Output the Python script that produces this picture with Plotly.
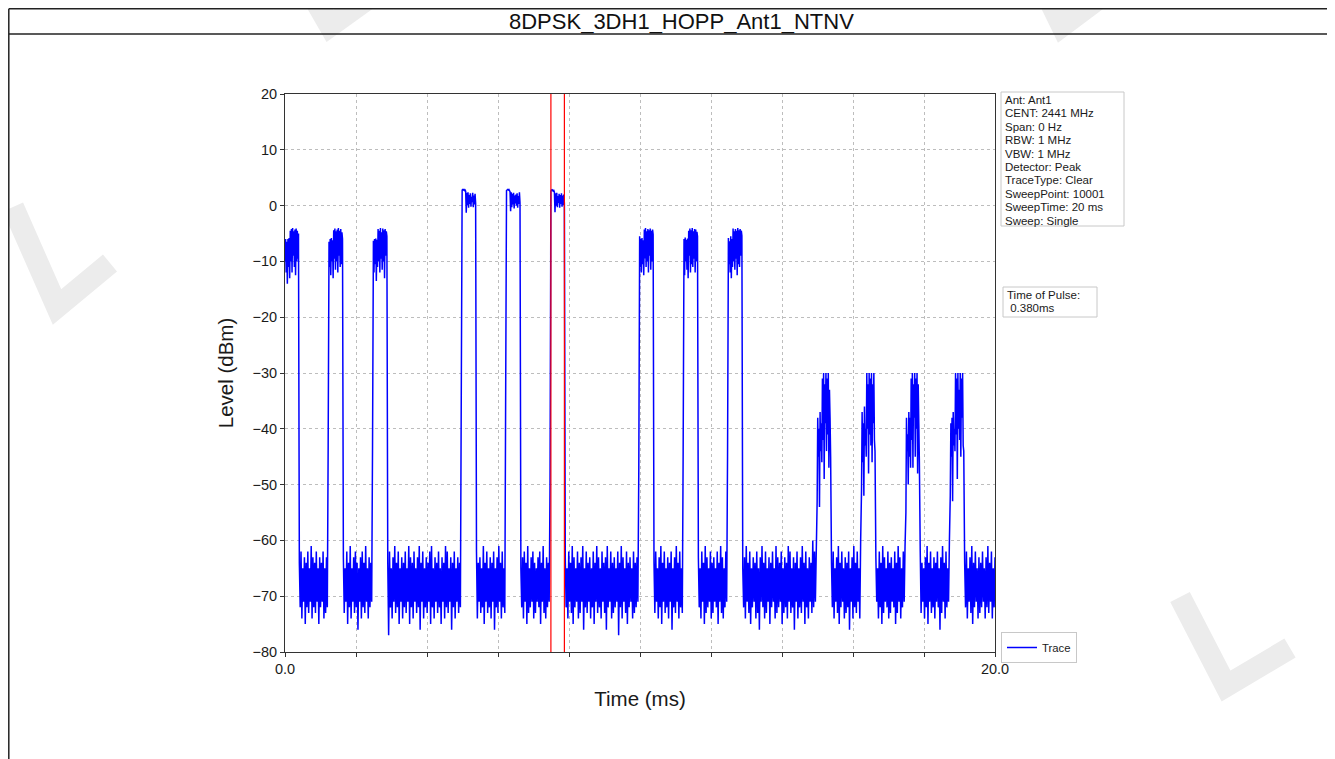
import numpy as np
import plotly.graph_objects as go

# sweep settings (read from the info box)
SWEEP_MS = 20.0
PULSE_MS = 0.38
PULSE_MARKERS_MS = [7.49, 7.87]
INFO_LINES = ["Ant: Ant1", "CENT: 2441 MHz", "Span: 0 Hz", "RBW: 1 MHz", "VBW: 1 MHz",
              "Detector: Peak", "TraceType: Clear", "SweepPoint: 10001",
              "SweepTime: 20 ms", "Sweep: Single"]
PULSE_LINES = ["Time of Pulse:", " 0.380ms"]

# start time of every burst (ms)
BURST_START_MS = [0.0, 1.24, 2.49, 4.99, 6.24, 7.49, 9.99, 11.24, 12.49,
                  14.99, 16.24, 17.49, 18.74]

# level samples inside each burst (dBm)
B1 = [-10, -6, -12, -6.5, -14, -6, -11, -5.8, -13, -4.5, -10, -4.2, -12, -4, -9, -4.6,
      -11, -4.3, -12.5, -4.1, -10, -4.5, -9.5, -5]
B2 = [-6.5, -11, -6, -12.5, -5.8, -10, -6.2, -13, -4.4, -9.5, -4.1, -11.5, -4.6, -10, -4.3,
      -12, -4.0, -9, -4.5, -11, -4.2, -10.5, -4.8, -6]
B3 = [-6.3, -12, -6, -10.5, -5.9, -13.5, -6.1, -11, -4.2, -10, -4.5, -12, -4, -9.5, -4.8,
      -11.5, -4.1, -10, -4.4, -13, -4.2, -9, -4.6, -5.5]
B4 = [2.8, 2.9, 2.8, 2.9, 2.7, 2.8, 2.6, -1.3, 2.3, 0.1, 2.4, -0.4, 1.9, 0.3, 2.2, -0.2,
      1.6, 0.6, 2.3, -0.3, 1.8, 0.2, 2.1, 0.4]
B5 = [2.7, 2.8, 2.9, 2.8, 2.9, 2.7, 2.5, -1.0, 2.4, -0.3, 2.1, 0.2, 2.3, -0.5, 1.8, 0.4,
      2.0, 0.0, 2.2, -0.4, 1.7, 0.3, 2.4, 0.5]
B6 = [2.6, 2.8, 2.7, 2.8, 2.6, 2.7, 2.4, -1.2, 2.2, 0.0, 2.3, -0.3, 1.7, 0.5, 2.1, -0.4,
      1.9, 0.3, 2.2, -0.2, 1.8, 0.1, 2.0, 0.4]
B7 = [-5.5, -11, -6, -12, -5.8, -10.5, -6.2, -12.5, -4.3, -9.5, -4, -11, -4.6, -10, -4.2,
      -12, -4.4, -9, -4.1, -11.5, -4.5, -10, -4.3, -5.2]
B8 = [-6, -12.5, -5.7, -10, -6.1, -11.5, -5.9, -13, -4.5, -9, -4.1, -12, -4.4, -10.5, -4,
      -11, -4.6, -9.5, -4.2, -12, -4.3, -10, -4.7, -5.5]
B9 = [-5.8, -10.5, -6.4, -12, -5.5, -13, -6, -11, -4.1, -10, -4.6, -11.5, -4.2, -9.5, -4.5,
      -12.5, -4, -10.5, -4.4, -11, -4.2, -9, -4.5, -5.4]
B10 = [-53, -38, -45, -40, -54, -37, -44, -39, -46, -31, -42, -30, -49, -32, -39, -30,
       -44, -31, -41, -30, -47, -33, -38, -45]
B11 = [-51, -37, -46, -39, -52, -36, -43, -40, -45, -30, -40, -32, -48, -30, -41, -31,
       -43, -30, -46, -32, -39, -30, -42, -44]
B12 = [-55, -38, -44, -41, -50, -37, -45, -38, -47, -31, -42, -30, -47, -32, -38, -30,
       -45, -31, -40, -30, -48, -32, -39, -46]
B13 = [-52, -39, -45, -38, -53, -37, -43, -40, -44, -30, -41, -31, -49, -30, -40, -33,
       -42, -30, -45, -31, -38, -30, -43, -44]

# noise floor samples between bursts (dBm)
G1 = [-64, -72, -62, -74, -65, -71, -63, -75, -64, -72, -62, -73, -65, -71, -61, -74, -63, -72,
      -64, -73, -62, -71, -65, -75, -63, -72, -64, -71, -62, -74, -65, -73, -63, -72, -43]
G2 = [-63, -73, -65, -71, -62, -75, -64, -72, -61, -74, -65, -71, -63, -73, -62, -72, -64, -76,
      -65, -71, -63, -74, -62, -72, -64, -73, -61, -71, -65, -74, -63, -72, -64, -71, -43]
G3 = [-64, -77, -62, -72, -65, -74, -63, -71, -61, -73, -64, -72, -62, -75, -65, -71, -63, -74, -64, -72,
      -62, -73, -65, -71, -61, -75, -63, -72, -64, -74, -62, -71, -65, -73, -63, -72, -61, -76, -64, -71,
      -62, -74, -65, -72, -63, -73, -64, -71, -62, -75, -61, -72, -65, -74, -63, -71, -64, -73, -62, -72,
      -65, -75, -63, -71, -64, -74, -61, -72, -62, -73, -65, -71, -63, -76, -64, -72, -62, -74, -65, -71,
      -63, -73, -64, -72, -34]
G4 = [-62, -74, -64, -71, -63, -73, -65, -72, -61, -75, -64, -71, -62, -73, -65, -72, -63, -74,
      -64, -71, -62, -76, -65, -72, -63, -73, -61, -71, -64, -74, -62, -72, -65, -73, -34]
G5 = [-65, -72, -63, -74, -62, -71, -64, -75, -61, -73, -65, -72, -63, -71, -62, -74, -64, -73,
      -65, -71, -63, -72, -62, -75, -64, -71, -61, -73, -65, -74, -63, -72, -64, -71, -50]
G6 = [-63, -72, -65, -74, -62, -71, -64, -73, -61, -75, -63, -72, -65, -71, -62, -74, -64, -73, -63, -71,
      -61, -76, -65, -72, -62, -73, -64, -71, -63, -74, -65, -72, -62, -75, -64, -71, -61, -73, -63, -72,
      -65, -74, -62, -71, -64, -73, -63, -76, -61, -72, -65, -71, -62, -74, -64, -73, -63, -72, -65, -71,
      -62, -77, -64, -72, -61, -74, -63, -71, -65, -73, -62, -75, -64, -72, -63, -71, -65, -74, -62, -73,
      -64, -72, -63, -71, -48]
G7 = [-64, -73, -62, -71, -65, -74, -63, -72, -61, -75, -64, -71, -62, -73, -65, -72, -63, -74,
      -64, -71, -62, -76, -65, -72, -63, -73, -61, -71, -64, -74, -62, -72, -65, -73, -44]
G8 = [-63, -72, -65, -74, -62, -71, -64, -75, -61, -73, -63, -72, -65, -71, -62, -74, -64, -73,
      -63, -71, -65, -72, -62, -75, -64, -71, -61, -73, -63, -74, -65, -72, -62, -71, -45]
G9 = [-65, -72, -63, -74, -61, -71, -64, -73, -62, -75, -65, -72, -63, -71, -64, -74, -62, -73, -65, -76,
      -63, -71, -61, -72, -64, -74, -62, -73, -65, -71, -63, -75, -64, -72, -62, -71, -65, -74, -61, -73,
      -63, -72, -64, -71, -62, -75, -65, -73, -63, -72, -64, -74, -61, -71, -62, -73, -65, -72, -63, -76,
      -64, -71, -62, -74, -65, -72, -63, -73, -61, -71, -64, -75, -62, -72, -65, -74, -63, -71, -64, -73,
      -60, -72, -62, -71, -62]
G10 = [-64, -72, -62, -74, -65, -71, -63, -73, -61, -75, -64, -72, -62, -71, -65, -74, -63, -73,
       -64, -72, -62, -76, -65, -71, -63, -74, -61, -72, -64, -73, -62, -71, -65, -74, -60]
G11 = [-63, -71, -65, -74, -62, -72, -64, -75, -61, -73, -63, -71, -65, -72, -62, -74, -64, -73,
       -63, -71, -65, -72, -62, -75, -64, -73, -61, -71, -63, -74, -65, -72, -62, -71, -61]
G12 = [-62, -73, -64, -71, -65, -74, -63, -72, -61, -75, -64, -71, -62, -73, -65, -72, -63, -74,
       -64, -71, -62, -72, -65, -76, -63, -73, -61, -71, -64, -74, -62, -72, -65, -71, -60]
G13 = [-64, -72, -62, -74, -65, -71, -63, -73, -61, -75, -64, -72, -62, -71, -65, -74, -63, -73,
       -64, -72, -62, -71, -65, -74, -63, -72, -61, -73, -64, -71, -62, -74, -65, -72, -63]

BURSTS = [B1, B2, B3, B4, B5, B6, B7, B8, B9, B10, B11, B12, B13]
GAPS = [G1, G2, G3, G4, G5, G6, G7, G8, G9, G10, G11, G12, G13]

# stitch bursts and gaps into one sweep
time_ms, level = [], []
for i, start in enumerate(BURST_START_MS):
    end = start + PULSE_MS
    time_ms += list(np.linspace(start, end, len(BURSTS[i])))
    level += BURSTS[i]
    last = i == len(BURST_START_MS) - 1
    nxt = SWEEP_MS if last else BURST_START_MS[i + 1]
    gap = GAPS[i]
    if last:
        time_ms += list(np.linspace(end, nxt, len(gap) + 1)[1:])
    else:
        time_ms += list(np.linspace(end, nxt, len(gap) + 2)[1:-1])
    level += gap

# page geometry; the html body adds an 8px margin round the figure
W, H, OFF = 1335, 759, 8
L, R, T, B = 285, 995, 94, 652   # plot box in page pixels


def px(x):
    return (x - L) / (R - L)


def py(y):
    return (B - y) / (B - T)


FONT = "Liberation Sans, Arial, sans-serif"
TXT = "#1a1a1a"


def tight_text(lines, size):
    # glyphs at `size`, line pitch set by the outer font of the annotation
    return "<br>".join(f"<span style='font-size:{size}px'>{s}</span>" for s in lines)


fig = go.Figure()
fig.add_trace(go.Scatter(x=time_ms, y=level, mode="lines", name="Trace",
                         line=dict(color="#0000ff", width=1.5, simplify=False)))

for xm in PULSE_MARKERS_MS:
    fig.add_shape(type="line", xref="x", yref="y", x0=xm, x1=xm, y0=-80, y1=20,
                  line=dict(color="red", width=1.2))

# faint watermark strokes
WATERMARKS = [[(13, 207), (57, 307), (110, 263)],
              [(1180, 597), (1226, 686), (1290, 648)],
              [(292, -40), (330, 26), (380, -10)],
              [(1030, -40), (1062, 26), (1110, -10)]]
for pts in WATERMARKS:
    path = "M " + " L ".join(f"{px(a):.4f},{py(b):.4f}" for a, b in pts)
    fig.add_shape(type="path", xref="paper", yref="paper", path=path, layer="below",
                  line=dict(color="#ececec", width=22))

# frame of the report table
frame = dict(color="#222222", width=1.5)
fig.add_shape(type="line", xref="paper", yref="paper", x0=px(8.8), x1=px(1336),
              y0=py(8.8), y1=py(8.8), line=frame)
fig.add_shape(type="line", xref="paper", yref="paper", x0=px(8.8), x1=px(1336),
              y0=py(34), y1=py(34), line=frame)
fig.add_shape(type="line", xref="paper", yref="paper", x0=px(8.8), x1=px(8.8),
              y0=py(8.8), y1=py(760), line=frame)

fig.add_annotation(text="8DPSK_3DH1_HOPP_Ant1_NTNV", xref="paper", yref="paper",
                   x=px(681), y=py(21), xanchor="center", yanchor="middle",
                   showarrow=False, font=dict(family=FONT, size=22, color="#111111"))

# info box and pulse box
box = dict(color="#c8c8c8", width=1)
fig.add_shape(type="rect", xref="paper", yref="paper", x0=px(1001), x1=px(1124),
              y0=py(92), y1=py(226), line=box, fillcolor="white")
fig.add_annotation(text=tight_text(INFO_LINES, 11.5), xref="paper", yref="paper",
                   x=px(1003), y=py(92), xanchor="left", yanchor="top", align="left",
                   showarrow=False, font=dict(family=FONT, size=10.3, color=TXT))
fig.add_shape(type="rect", xref="paper", yref="paper", x0=px(1003), x1=px(1097),
              y0=py(287), y1=py(317), line=box, fillcolor="white")
fig.add_annotation(text=tight_text(PULSE_LINES, 11.5), xref="paper", yref="paper",
                   x=px(1005), y=py(287), xanchor="left", yanchor="top", align="left",
                   showarrow=False, font=dict(family=FONT, size=10.3, color=TXT))

xticks = [0, 2, 4, 6, 8, 10, 12, 14, 16, 18, 20]
xlabels = ["0.0"] + [""] * 9 + ["20.0"]

axis_common = dict(showgrid=True, gridcolor="#bdbdbd", griddash="3px,3px", gridwidth=0.8,
                   showline=True, mirror=True, linecolor="#333333", linewidth=1,
                   ticks="outside", ticklen=4, tickcolor="#333333", zeroline=False,
                   tickfont=dict(size=14.5, color=TXT))

fig.update_layout(
    width=W - OFF, height=H - OFF,
    margin=dict(l=L - OFF, r=W - R, t=T - OFF, b=H - B),
    paper_bgcolor="white", plot_bgcolor="white",
    font=dict(family=FONT, color=TXT),
    showlegend=True,
    legend=dict(x=px(1001), y=py(632), xanchor="left", yanchor="top",
                bordercolor="#c8c8c8", borderwidth=1, bgcolor="white",
                font=dict(family=FONT, size=11.3, color=TXT)),
    xaxis=dict(range=[0, SWEEP_MS], tickvals=xticks, ticktext=xlabels,
               title=dict(text="Time (ms)", font=dict(size=20.5), standoff=15),
               **axis_common),
    yaxis=dict(range=[-80, 20], dtick=10,
               title=dict(text="Level (dBm)", font=dict(size=20.5), standoff=13),
               **axis_common),
)

fig.write_html("out.html")
